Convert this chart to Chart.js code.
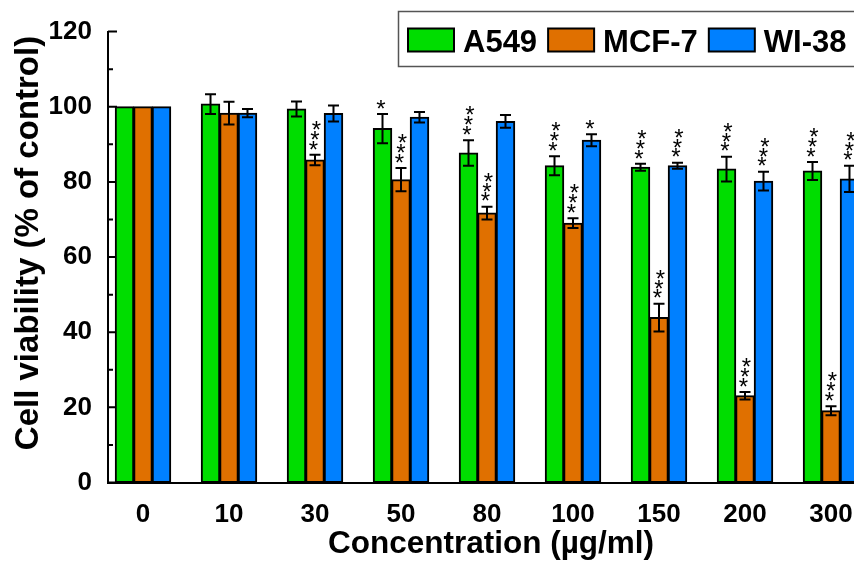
<!DOCTYPE html>
<html>
<head>
<meta charset="utf-8">
<script src="https://cdn.jsdelivr.net/npm/chart.js@4.4.1/dist/chart.umd.min.js"></script>
<style>
  html, body { margin: 0; padding: 0; background: #fff; overflow: hidden; }
  #wrap { width: 854px; height: 563px; overflow: hidden; }
  canvas { display: block; }
</style>
</head>
<body>
<div id="wrap"><canvas id="chart" width="900" height="563"></canvas></div>
<script>
// concentrations (µg/ml)
const concentrations = ['0', '10', '30', '50', '80', '100', '150', '200', '300'];

const a549 = [100, 100.7, 99.4, 94.2, 87.7, 84.3, 83.9, 83.4, 82.9];
const a549Err = [0, 2.6, 2.0, 3.9, 3.4, 2.5, 0.9, 3.3, 2.4];
const a549Sig = ['', '', '', '*', '***', '***', '***', '***', '***'];

const mcf7 = [100, 98.3, 85.8, 80.6, 71.7, 69.0, 43.9, 23.1, 19.1];
const mcf7Err = [0, 3.0, 1.4, 3.1, 1.7, 1.3, 3.7, 1.0, 1.2];
const mcf7Sig = ['', '', '***', '***', '***', '***', '***', '***', '***'];

const wi38 = [100, 98.3, 98.2, 97.2, 96.1, 91.1, 84.3, 80.2, 80.8];
const wi38Err = [0, 1.1, 2.1, 1.4, 1.7, 1.6, 0.8, 2.5, 3.5];
const wi38Sig = ['', '', '', '', '', '*', '***', '***', '***'];

const yMajorTicks = [0, 20, 40, 60, 80, 100, 120];
const yMinorTicks = [10, 30, 50, 70, 90, 110];

const yTitle = 'Cell viability (% of control)';
const FONT = "'Liberation Sans', Arial, sans-serif";

const series = [
  { label: 'A549', values: a549, err: a549Err, sig: a549Sig, color: '#00dd00' },
  { label: 'MCF-7', values: mcf7, err: mcf7Err, sig: mcf7Sig, color: '#e07000' },
  { label: 'WI-38', values: wi38, err: wi38Err, sig: wi38Sig, color: '#0080ff' }
];

const extras = {
  id: 'extras',
  beforeDatasetsDraw(chart) {
    const ctx = chart.ctx;
    const y = chart.scales.y;
    const left = chart.chartArea.left;
    ctx.save();
    ctx.strokeStyle = '#000';
    ctx.lineWidth = 2;
    ctx.beginPath();
    yMajorTicks.forEach(v => {
      const p = y.getPixelForValue(v);
      ctx.moveTo(left, p); ctx.lineTo(left + 9, p);
    });
    yMinorTicks.forEach(v => {
      const p = y.getPixelForValue(v);
      ctx.moveTo(left, p); ctx.lineTo(left + 5, p);
    });
    ctx.stroke();
    ctx.restore();
  },
  afterDatasetsDraw(chart) {
    const ctx = chart.ctx;
    const y = chart.scales.y;
    ctx.save();
    ctx.strokeStyle = '#000';
    ctx.fillStyle = '#000';
    ctx.lineWidth = 2;
    series.forEach((s, i) => {
      chart.getDatasetMeta(i).data.forEach((bar, j) => {
        const e = s.err[j];
        const top = y.getPixelForValue(s.values[j] + e);
        if (e > 0) {
          const bot = y.getPixelForValue(s.values[j] - e);
          ctx.beginPath();
          ctx.moveTo(bar.x, top); ctx.lineTo(bar.x, bot);
          ctx.moveTo(bar.x - 5.5, top); ctx.lineTo(bar.x + 5.5, top);
          ctx.moveTo(bar.x - 5.5, bot); ctx.lineTo(bar.x + 5.5, bot);
          ctx.stroke();
        }
        const stars = s.sig[j].length;
        ctx.font = '24px ' + FONT;
        ctx.textAlign = 'center';
        ctx.textBaseline = 'alphabetic';
        for (let k = 0; k < stars; k++) {
          const cy = top - 11 - k * 9.8;
          ctx.fillText('*', bar.x - 1.5 + k * 1.5, cy + 13.7);
        }
      });
    });
    ctx.restore();
  },
  afterDraw(chart) {
    const ctx = chart.ctx;
    ctx.save();
    // y axis title
    ctx.translate(29, 243);
    ctx.rotate(-Math.PI / 2);
    ctx.font = 'bold 33px ' + FONT;
    ctx.fillStyle = '#000';
    ctx.textAlign = 'center';
    ctx.textBaseline = 'middle';
    ctx.fillText(yTitle, 0, 0);
    ctx.restore();

    // legend box
    ctx.save();
    ctx.strokeStyle = '#555';
    ctx.lineWidth = 1.5;
    ctx.strokeRect(398.5, 11.5, 520, 55);
    ctx.font = 'bold 31px ' + FONT;
    ctx.textAlign = 'left';
    ctx.textBaseline = 'alphabetic';
    let x = 408;
    series.forEach(s => {
      ctx.fillStyle = s.color;
      ctx.fillRect(x, 28.5, 46, 23);
      ctx.strokeStyle = '#000';
      ctx.lineWidth = 2;
      ctx.strokeRect(x, 28.5, 46, 23);
      ctx.fillStyle = '#000';
      ctx.fillText(s.label, x + 55, 52);
      x += 55 + ctx.measureText(s.label).width + 11;
    });
    ctx.restore();
  }
};

new Chart(document.getElementById('chart'), {
  type: 'bar',
  data: {
    datasets: series.map(s => ({
      label: s.label,
      data: s.values.map((v, i) => ({ x: i, y: v })),
      backgroundColor: s.color,
      borderColor: '#000',
      borderWidth: 2,
      borderSkipped: false,
      inflateAmount: 0.5,
      categoryPercentage: 0.645,
      barPercentage: 1
    }))
  },
  options: {
    responsive: false,
    animation: false,
    devicePixelRatio: 1,
    datasets: { bar: { categoryPercentage: 0.645, barPercentage: 1 } },
    layout: { padding: { top: 25, right: 26, left: 0, bottom: 0 } },
    plugins: { legend: { display: false }, tooltip: { enabled: false } },
    scales: {
      x: {
        type: 'linear',
        offset: false,
        min: -0.407,
        max: 8.5,
        afterBuildTicks: scale => { scale.ticks = concentrations.map((c, i) => ({ value: i })); },
        afterFit: scale => { scale.height = 80.5; },
        grid: { display: false, drawTicks: false },
        border: { display: true, color: '#000', width: 2 },
        ticks: {
          padding: 17,
          color: '#000',
          font: { family: FONT, size: 26, weight: 'bold' },
          callback: v => concentrations[v]
        },
        title: {
          display: true,
          text: 'Concentration (µg/ml)',
          color: '#000',
          padding: 0,
          font: { family: FONT, size: 31.5, weight: 'bold' }
        }
      },
      y: {
        min: 0,
        max: 120,
        afterFit: scale => { scale.width = 108; },
        grid: { display: false, drawTicks: false },
        border: { display: true, color: '#000', width: 2 },
        ticks: {
          stepSize: 20,
          padding: 16,
          color: '#000',
          font: { family: FONT, size: 26, weight: 'bold' }
        }
      }
    }
  },
  plugins: [extras]
});
</script>
</body>
</html>
